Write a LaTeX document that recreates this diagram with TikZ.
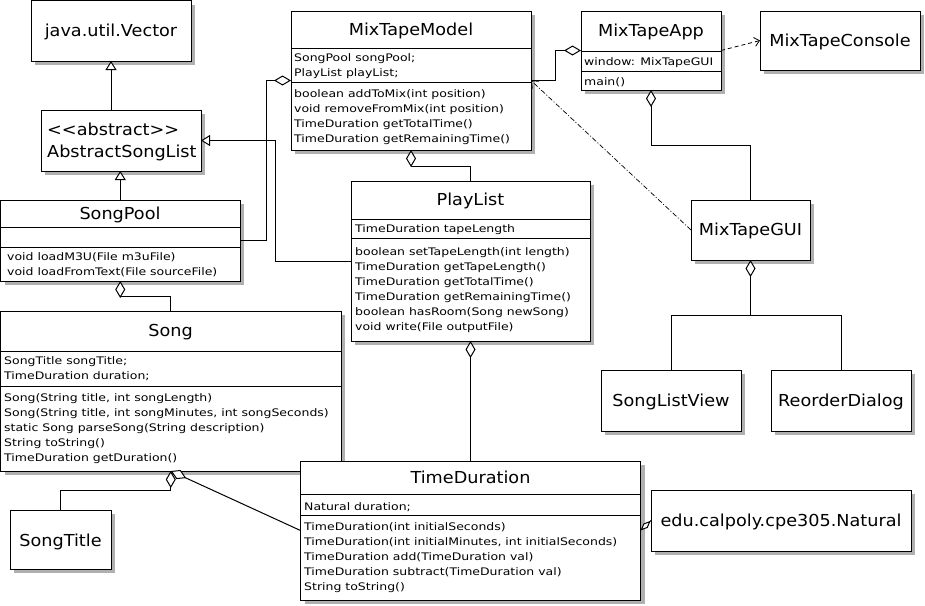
\documentclass[tikz,border=0pt]{standalone}
\usepackage{fontspec}
\setmainfont{DejaVu Sans}
\newfontfamily\memfont[FakeStretch=1.2]{DejaVu Sans}
\newfontfamily\titfont[FakeStretch=1.07]{DejaVu Sans}
\usetikzlibrary{arrows.meta,calc}
\definecolor{shadowgray}{RGB}{176,176,176}
\pgfdeclarelayer{background}
\pgfsetlayers{background,main}
\newcommand\memlines[4]{%
  \foreach \t [count=\i] in {#4} {\node[mem] (#1-\i) at (#2, {#3+15*(\i-1)}) {\t};}}
\begin{document}
\begin{tikzpicture}[x=1pt,y=-1pt,
  box/.style={draw, fill=white, line width=1pt, inner sep=0pt, outer sep=0pt, anchor=north west},
  boxshadow/.style={fill=shadowgray, draw=none},
  tit/.style={font=\titfont\fontsize{16.5}{20}\selectfont, inner sep=0pt, anchor=base},
  titl/.style={tit, anchor=base west},
  mem/.style={font=\memfont\fontsize{10.4}{15}\selectfont, inner sep=0pt, anchor=base west},
  sepline/.style={line width=1pt},
  conn/.style={line width=1pt},
  gen/.style={conn, -{Triangle[length=9pt,width=11pt,fill=white]}},
  agg/.style={conn, {Diamond[length=17pt,width=10pt,fill=white]}-},
  dep/.style={line width=0.8pt, dash pattern=on 4pt off 3pt, -{Straight Barb[length=5pt,width=9pt]}},
  dashdot/.style={line width=0.7pt, dash pattern=on 5pt off 2pt on 1pt off 2pt, -{Straight Barb[length=6pt,width=10pt]}},
]
\useasboundingbox (0,0) rectangle (925,605);

% ---------- boxes ----------
\node[box, minimum width=160pt, minimum height=60.5pt] (vector) at (31,0.5) {};
\node[box, minimum width=160pt, minimum height=61pt] (abstract) at (41,110) {};
\node[box, minimum width=239.5pt, minimum height=81pt] (songpool) at (0.5,200) {};
\node[box, minimum width=240pt, minimum height=139pt] (model) at (291,11) {};
\node[box, minimum width=140pt, minimum height=79pt] (app) at (581,11) {};
\node[box, minimum width=160pt, minimum height=59pt] (console) at (760,11) {};
\node[box, minimum width=239pt, minimum height=160pt] (playlist) at (351,181) {};
\node[box, minimum width=119pt, minimum height=60pt] (gui) at (691,200) {};
\node[box, minimum width=140pt, minimum height=61pt] (songlistview) at (601,370) {};
\node[box, minimum width=140pt, minimum height=61pt] (reorder) at (771,370) {};
\node[box, minimum width=340.5pt, minimum height=160pt] (song) at (0.5,311) {};
\node[box, minimum width=340pt, minimum height=139pt] (timedur) at (300.5,461) {};
\node[box, minimum width=260pt, minimum height=61pt] (natural) at (651,490) {};
\node[box, minimum width=101pt, minimum height=59pt] (songtitle) at (10,510) {};

% ---------- shadows, behind every box ----------
\begin{pgfonlayer}{background}
\foreach \n in {vector,abstract,songpool,model,app,console,playlist,gui,songlistview,reorder,song,timedur,natural,songtitle}
  {\fill[boxshadow] ($(\n.north west)+(4,4)$) rectangle ($(\n.south east)+(4,4)$);}
\end{pgfonlayer}

% ---------- compartments ----------
\draw[sepline] (songpool.west |- 0,227) -- (songpool.east |- 0,227);
\draw[sepline] (songpool.west |- 0,247) -- (songpool.east |- 0,247);
\draw[sepline] (model.west |- 0,48) -- (model.east |- 0,48);
\draw[sepline] (model.west |- 0,82) -- (model.east |- 0,82);
\draw[sepline] (app.west |- 0,51) -- (app.east |- 0,51);
\draw[sepline] (app.west |- 0,71) -- (app.east |- 0,71);
\draw[sepline] (playlist.west |- 0,219) -- (playlist.east |- 0,219);
\draw[sepline] (playlist.west |- 0,238) -- (playlist.east |- 0,238);
\draw[sepline] (song.west |- 0,351) -- (song.east |- 0,351);
\draw[sepline] (song.west |- 0,386) -- (song.east |- 0,386);
\draw[sepline] (timedur.west |- 0,494.5) -- (timedur.east |- 0,494.5);
\draw[sepline] (timedur.west |- 0,515.5) -- (timedur.east |- 0,515.5);

% ---------- titles ----------
\node[tit] (vector-t) at (111,36) {java.util.Vector};
\node[titl] (abstract-s) at (47,135) {<<abstract>>};
\node[titl] (abstract-t) at (47,157) {AbstractSongList};
\node[tit] (songpool-t) at (120,219) {SongPool};
\node[tit] (model-t) at (411,35) {MixTapeModel};
\node[tit] (app-t) at (651,36.5) {MixTapeApp};
\node[tit] (console-t) at (840,46.5) {MixTapeConsole};
\node[tit] (playlist-t) at (470.5,205) {PlayList};
\node[tit] (gui-t) at (750.5,235) {MixTapeGUI};
\node[tit] (songlistview-t) at (671,406) {SongListView};
\node[tit] (reorder-t) at (841,406) {ReorderDialog};
\node[tit] (song-t) at (170.5,336.5) {Song};
\node[tit] (timedur-t) at (470.5,483.5) {TimeDuration};
\node[tit] (natural-t) at (781,526.5) {edu.calpoly.cpe305.Natural};
\node[tit] (songtitle-t) at (60.5,546) {SongTitle};

% ---------- members ----------
\memlines{songpool-m}{7}{260.5}{{void loadM3U(File m3uFile)},{void loadFromText(File sourceFile)}}
\memlines{model-a}{294}{61.5}{{SongPool songPool;},{PlayList playList;}}
\memlines{model-m}{294}{97}{{boolean addToMix(int position)},{void removeFromMix(int position)},{TimeDuration getTotalTime()},{TimeDuration getRemainingTime()}}
\memlines{app-a}{584}{65}{{window: MixTapeGUI}}
\memlines{app-m}{584}{85}{{main()}}
\memlines{playlist-a}{355}{232.5}{{TimeDuration tapeLength}}
\memlines{playlist-m}{355}{255}{{boolean setTapeLength(int length)},{TimeDuration getTapeLength()},{TimeDuration getTotalTime()},{TimeDuration getRemainingTime()},{boolean hasRoom(Song newSong)},{void write(File outputFile)}}
\memlines{song-a}{4}{364.5}{{SongTitle songTitle;},{TimeDuration duration;}}
\memlines{song-m}{4}{401}{{Song(String title, int songLength)},{Song(String title, int songMinutes, int songSeconds)},{static Song parseSong(String description)},{String toString()},{TimeDuration getDuration()}}
\memlines{timedur-a}{304}{510}{{Natural duration;}}
\memlines{timedur-m}{304}{530}{{TimeDuration(int initialSeconds)},{TimeDuration(int initialMinutes, int initialSeconds)},{TimeDuration add(TimeDuration val)},{TimeDuration subtract(TimeDuration val)},{String toString()}}

% ---------- connectors ----------
\draw[gen] (vector.south |- abstract.north) -- (vector.south);
\draw[gen] (songpool.north) -- (songpool.north |- abstract.south);
\draw[gen] (playlist.west) -- ++(-76,0) |- (abstract.east);
\draw[agg] (model.west) -- ++(-25,0) |- (songpool.east);
\draw[agg] (model.south) -- ++(0,16) -| (playlist.north);
\draw[agg] (app.west) -- ++(-26,0) |- (model.east);
\draw[dep] (app.east) -- (console.west);
\draw[dashdot] (gui.west) -- (model.east);
\draw[agg] (app.south) -- ++(0,55) -| (gui.north);
\draw[agg] (gui.south) -- ++(0,55) coordinate (guibus) -| (songlistview.north);
\draw[conn] (guibus) -| (reorder.north);
\draw[agg] (songpool.south) -- ++(0,15) -| (song.north);
\draw[agg] (playlist.south) -- (timedur.north);
\draw[agg] (song.south) -- ++(0,19) -| (songtitle.north);
\draw[agg] (song.south) -- (timedur.west);
\draw[conn, {Diamond[length=14pt,width=6pt,fill=white]}-] (timedur.east) -- (natural.west);
\end{tikzpicture}
\end{document}
